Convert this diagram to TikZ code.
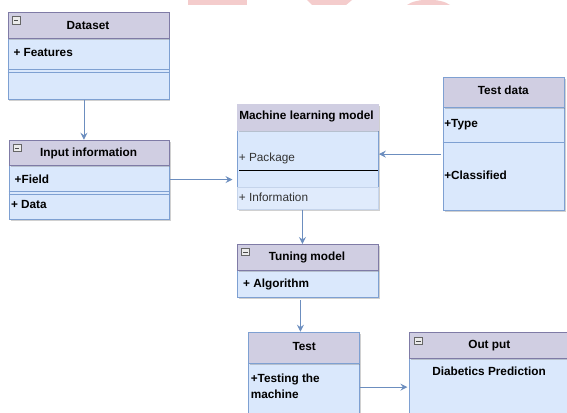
\documentclass[tikz,border=0pt]{standalone}
\usepackage{fontspec}
\setmainfont{Liberation Sans}
\usetikzlibrary{arrows.meta,shadows,calc}
\definecolor{hdrfill}{HTML}{D0CEE2}
\definecolor{hdrline}{HTML}{7F7BA6}
\definecolor{bodyfill}{HTML}{DAE8FC}
\definecolor{bodyline}{HTML}{7EA0D2}
\definecolor{arrowc}{HTML}{6C8EBF}
\definecolor{wm}{HTML}{F4CCCC}
\definecolor{txtgray}{HTML}{333333}
\tikzset{
  shd/.style={drop shadow={shadow xshift=1.5pt,shadow yshift=-1.5pt,opacity=0.3,fill=black!60}},
  hdr/.style={draw=hdrline, fill=hdrfill, line width=0.9pt, anchor=north west, inner sep=0pt, shd},
  bdy/.style={draw=bodyline, fill=bodyfill, line width=0.9pt, anchor=north west, inner sep=0pt, shd},
  ttl/.style={font=\bfseries\fontsize{11.8}{14}\selectfont, inner sep=0pt, anchor=center},
  itm/.style={font=\bfseries\fontsize{11.8}{14}\selectfont, inner sep=0pt, anchor=west},
  itmr/.style={font=\fontsize{11.8}{14}\selectfont, text=txtgray, inner sep=0pt, anchor=west},
  rowline/.style={draw=bodyline, line width=0.9pt},
  icon/.style={draw=black!60, fill=black!8, line width=0.5pt},
  arr/.style={draw=arrowc, line width=0.9pt, -{Stealth[length=7pt,width=7pt,inset=2.5pt]}}
}
\newcommand{\minusicon}[2]{%
  \draw[icon] (#1,#2) rectangle ++(7.8,7.4);
  \draw[black!70, line width=0.6pt] ($(#1,#2)+(1.8,3.7)$) -- ++(4.2,0);}
\begin{document}
\begin{tikzpicture}[x=1pt,y=-1pt]
\useasboundingbox (0,0) rectangle (567,412);
\clip (0,0) rectangle (567,412);
\fill[white] (0,0) rectangle (567,412);
% watermark fragments
\fill[wm] (188,0) rectangle (247,5);
\fill[wm] (307,0) -- (352,0) -- (346,5) -- (312,5) -- cycle;
\fill[wm] (407,5) .. controls (416,-2) and (441,-2) .. (450,5) -- cycle;

% Dataset
\node[bdy, minimum width=161pt, minimum height=60.7pt] (dsb) at (7.5,38) {};
\node[hdr, minimum width=161pt, minimum height=26pt] (dsh) at (7.5,12) {};
\draw[rowline] (7.5,69.3) -- (168.5,69.3);
\draw[rowline] (7.5,72) -- (168.5,72);
\minusicon{12.3}{16.5}
\node[ttl] (dst) at (88,25) {Dataset};
\node[itm] (dsf) at (13.3,52) {+ Features};

% Input information
\node[bdy, minimum width=160.6pt, minimum height=53.7pt] (iab) at (8.7,165.3) {};
\node[hdr, minimum width=160.6pt, minimum height=25.6pt] (iah) at (8.7,139.7) {};
\draw[rowline] (8.7,191.7) -- (169.3,191.7);
\draw[rowline] (8.7,194.7) -- (169.3,194.7);
\minusicon{13.4}{144.3}
\node[ttl] (iat) at (88.6,153.3) {Input information};
\node[itm] (iaf) at (14.5,179.3) {+Field};
\node[itm] (iad) at (10.8,204.3) {+ Data};

% Machine learning model
\node[bdy, minimum width=141pt, minimum height=57.3pt] (mlb) at (237,130) {};
\node[bdy, draw=bodyline!45, fill=bodyfill!85!white, minimum width=141pt, minimum height=21.7pt] (mli) at (237,187.3) {};
\node[hdr, draw=hdrfill, minimum width=141pt, minimum height=25.7pt] (mlh) at (237,104.3) {};
\draw[black, line width=0.9pt] (239,170.7) -- (378,170.7);
\node[ttl] (mlt) at (306.5,116.7) {Machine learning model};
\node[itmr] (mlp) at (238.7,158.7) {+ Package};
\node[itmr] (mlinf) at (238.7,197) {+ Information};

% Test data
\node[bdy, minimum width=121.3pt, minimum height=102.7pt] (tdb) at (442.7,107.3) {};
\node[hdr, draw=bodyline, minimum width=121.3pt, minimum height=30pt] (tdh) at (442.7,77.3) {};
\draw[rowline] (442.7,142) -- (564,142);
\node[ttl] (tdt) at (503.3,90.7) {Test data};
\node[itm] (tdty) at (444.1,124.3) {+Type};
\node[itm] (tdc) at (444.1,175.3) {+Classified};

% Tuning model
\node[bdy, minimum width=141pt, minimum height=26.7pt] (tub) at (237,270) {};
\node[hdr, minimum width=141pt, minimum height=26pt] (tuh) at (237,244) {};
\minusicon{241.6}{248.3}
\node[ttl] (tut) at (307,257.3) {Tuning model};
\node[itm] (tua) at (243,284) {+ Algorithm};

% Test
\node[bdy, minimum width=111pt, minimum height=60pt] (tsb) at (247.7,362.7) {};
\node[hdr, draw=bodyline, minimum width=111pt, minimum height=31pt] (tsh) at (247.7,331.7) {};
\node[ttl] (tst) at (304.2,346) {Test};
\node[itm] (tsl1) at (250.6,379.3) {+Testing the};
\node[itm] (tsl2) at (250.6,394.7) {machine};

% Out put
\node[bdy, minimum width=170pt, minimum height=70pt] (oub) at (409.4,357.7) {};
\node[hdr, minimum width=170pt, minimum height=26pt] (ouh) at (409.4,331.7) {};
\minusicon{414.5}{337.3}
\node[ttl] (out) at (489.3,345.3) {Out put};
\node[ttl] (oud) at (489,371) {Diabetics Prediction};

% connectors
\draw[arr] ([xshift=-4.5pt]dsb.south) -- ([xshift=-4.5pt]dsb.south |- iah.north);
\draw[arr, shorten >=4.5pt] ([yshift=13pt]iab.east) -- ([yshift=13pt]iab.east -| mlb.west);
\draw[arr, shorten <=1.5pt] ([yshift=5pt]tdb.west) -- ([yshift=5pt]tdb.west -| mlb.east);
\draw[arr] ([xshift=-5.5pt]mli.south) -- ([xshift=-5.5pt]mli.south |- tuh.north);
\draw[arr, shorten <=2.5pt] ([xshift=-7.5pt]tub.south) -- ([xshift=-7.5pt]tub.south |- tsh.north);
\draw[arr, shorten >=2pt] ([yshift=6pt]tsb.east) -- ([yshift=6pt]tsb.east -| oub.west);
\end{tikzpicture}
\end{document}
